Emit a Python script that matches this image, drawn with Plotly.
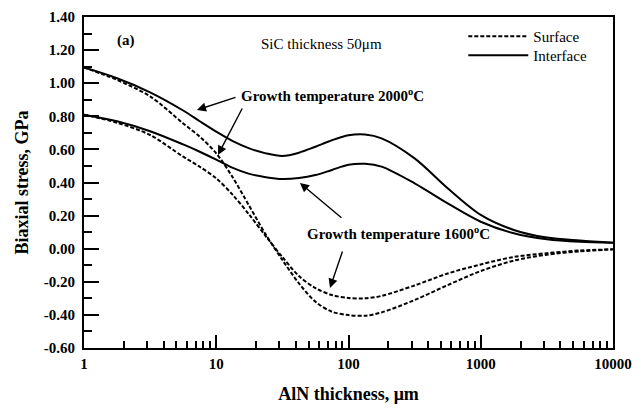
import plotly.graph_objects as go

# AlN thickness (um)
thickness = [1, 1.778, 3.162, 5.623, 7.499, 10, 13.34, 17.78, 23.71, 31.62, 42.17, 56.23, 74.99,
             100, 133.4, 177.8, 316.2, 562.3, 1000, 1778, 3162, 5623, 10000]

# Biaxial stress (GPa)
surface_2000 = [1.095, 1.02, 0.92, 0.757, 0.677, 0.576, 0.43, 0.258, 0.085, -0.068, -0.209, -0.32,
                -0.381, -0.401, -0.405, -0.385, -0.31, -0.22, -0.135, -0.072, -0.036, -0.016, -0.004]
interface_2000 = [1.095, 1.03, 0.945, 0.835, 0.77, 0.707, 0.65, 0.606, 0.576, 0.56, 0.58, 0.616,
                  0.655, 0.685, 0.69, 0.667, 0.546, 0.365, 0.204, 0.113, 0.067, 0.049, 0.036]
surface_1600 = [0.81, 0.761, 0.687, 0.556, 0.495, 0.425, 0.325, 0.205, 0.075, -0.05, -0.165, -0.238,
                -0.28, -0.298, -0.30, -0.285, -0.222, -0.15, -0.095, -0.05, -0.027, -0.011, -0.004]
interface_1600 = [0.81, 0.77, 0.71, 0.63, 0.586, 0.538, 0.488, 0.452, 0.432, 0.421, 0.427, 0.445,
                  0.476, 0.507, 0.513, 0.496, 0.395, 0.274, 0.163, 0.093, 0.057, 0.042, 0.036]

y_ticks = [-0.6, -0.4, -0.2, 0.0, 0.2, 0.4, 0.6, 0.8, 1.0, 1.2, 1.4]
y_ticktext = ["-0.60", "-0.40", "-0.20", "0.00", "0.20", "0.40", "0.60", "0.80", "1.00", "1.20", "1.40"]
x_ticks = [1, 10, 100, 1000, 10000]
x_ticktext = ["1", "10", "100", "1000", "10000"]

SERIF = "Liberation Serif"
DASH = "4px,2px"
SMOOTH = 0.9

fig = go.Figure()
fig.add_trace(go.Scatter(x=thickness, y=surface_2000, mode="lines", name="Surface",
                         line=dict(color="black", width=2, dash=DASH, shape="spline", smoothing=SMOOTH),
                         showlegend=True, legend="legend"))
fig.add_trace(go.Scatter(x=thickness, y=interface_2000, mode="lines", name="Interface",
                         line=dict(color="black", width=2, shape="spline", smoothing=SMOOTH),
                         showlegend=True, legend="legend2"))
fig.add_trace(go.Scatter(x=thickness, y=surface_1600, mode="lines", name="Surface 1600",
                         line=dict(color="black", width=2, dash=DASH, shape="spline", smoothing=SMOOTH),
                         showlegend=False))
fig.add_trace(go.Scatter(x=thickness, y=interface_1600, mode="lines", name="Interface 1600",
                         line=dict(color="black", width=2, shape="spline", smoothing=SMOOTH),
                         showlegend=False))

minor_x = [m * 10 ** d for d in range(4) for m in range(2, 10)]

fig.update_xaxes(
    type="log", range=[0, 4], automargin=False,
    tickvals=x_ticks, ticktext=x_ticktext,
    ticks="inside", ticklen=13, tickwidth=2, tickcolor="black",
    minor=dict(tickvals=minor_x, ticks="inside", ticklen=7, tickwidth=1.5, tickcolor="black"),
    showline=True, linewidth=2, linecolor="black", mirror=True,
    showgrid=False, zeroline=False, ticklabelstandoff=1,
    tickfont=dict(family=SERIF, size=15, color="black", weight="bold"),
    title=dict(text="AlN thickness, \u03bcm", font=dict(family=SERIF, size=18, color="black", weight="bold"),
               standoff=16),
)
fig.update_yaxes(
    range=[-0.6, 1.4], automargin=False,
    tickvals=y_ticks, ticktext=y_ticktext,
    ticks="inside", ticklen=15, tickwidth=2, tickcolor="black",
    minor=dict(dtick=0.1, ticks="inside", ticklen=8, tickwidth=1.5, tickcolor="black"),
    showline=True, linewidth=2, linecolor="black", mirror=True,
    showgrid=False, zeroline=False, ticklabelstandoff=4,
    tickfont=dict(family=SERIF, size=15, color="black", weight="bold"),
    title=dict(text="Biaxial stress, GPa", font=dict(family=SERIF, size=18, color="black", weight="bold"),
               standoff=10),
)

ann_font_b = dict(family=SERIF, size=15, color="black", weight="bold")
ann_font = dict(family=SERIF, size=15, color="black")

annotations = [
    dict(x=0.318, y=1.26, xref="x", yref="y", text="(a)", showarrow=False, font=ann_font_b),
    dict(x=1.323, y=1.235, xref="x", yref="y", text="SiC thickness 50\u03bcm", showarrow=False,
         xanchor="left", font=ann_font),
    dict(x=1.172, y=0.93, xref="x", yref="y", text="Growth temperature 2000<sup>o</sup>C", showarrow=False,
         xanchor="left", font=ann_font_b),
    dict(x=1.671, y=0.095, xref="x", yref="y", text="Growth temperature 1600<sup>o</sup>C", showarrow=False,
         xanchor="left", font=ann_font_b),
]
arrows = [
    (0.854, 0.838, 1.157, 0.917),
    (1.013, 0.566, 1.202, 0.856),
    (1.633, 0.397, 1.958, 0.179),
    (1.860, -0.237, 1.958, -0.008),
]
for hx, hy, tx, ty in arrows:
    annotations.append(dict(x=hx, y=hy, ax=tx, ay=ty, xref="x", yref="y", axref="x", ayref="y",
                            text="", showarrow=True, arrowhead=2, arrowsize=1.3, arrowwidth=1.4,
                            arrowcolor="black"))

legend_common = dict(xanchor="left", yanchor="top", bgcolor="rgba(0,0,0,0)",
                     font=dict(family=SERIF, size=15, color="black"), itemwidth=60)

fig.update_layout(
    width=641, height=411,
    margin=dict(l=84, r=28, t=17, b=63),
    plot_bgcolor="white", paper_bgcolor="white",
    annotations=annotations,
    legend=dict(x=0.717, y=0.991, **legend_common),
    legend2=dict(x=0.717, y=0.9335, **legend_common),
    showlegend=True,
)

fig.write_html("out.html")
